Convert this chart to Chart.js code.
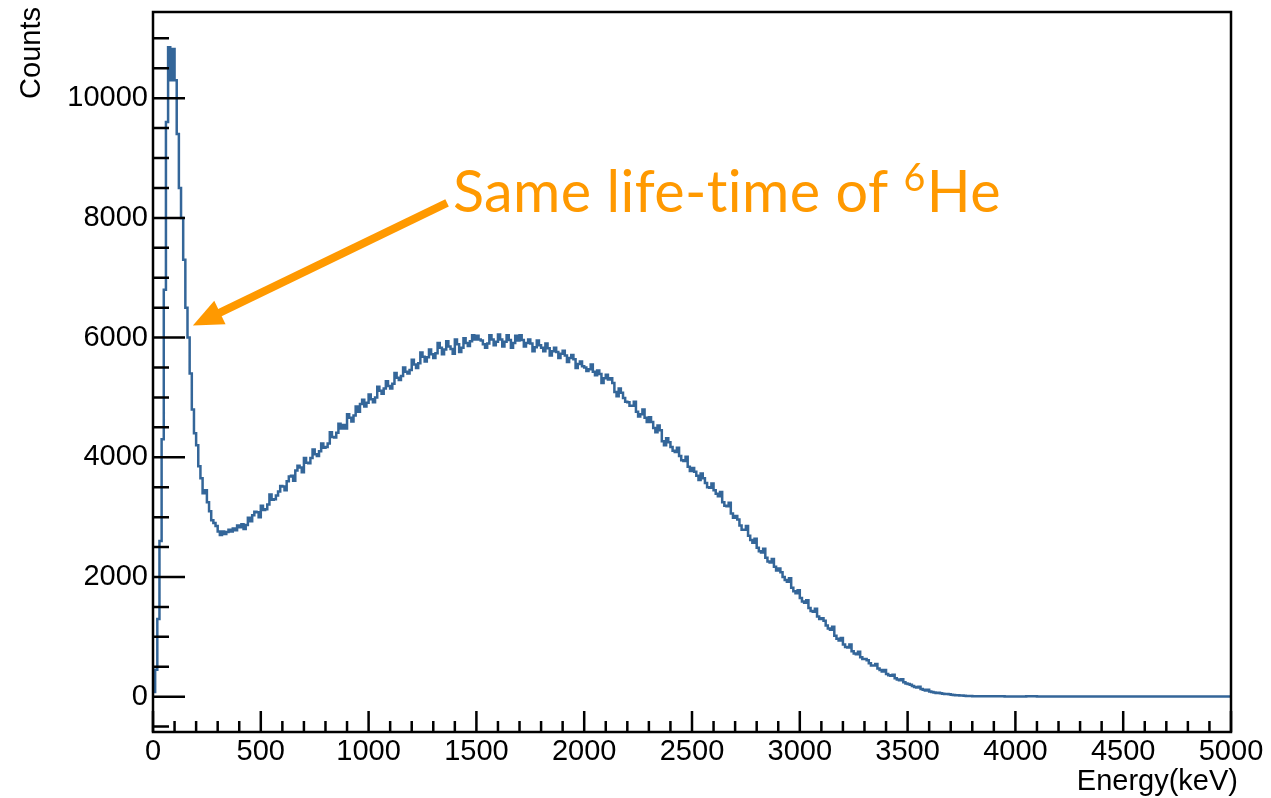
<!DOCTYPE html>
<html>
<head>
<meta charset="utf-8">
<title>Energy spectrum</title>
<script src="https://cdn.jsdelivr.net/npm/chart.js@4"></script>
<style>
    html, body { margin: 0; padding: 0; background: #ffffff; }
    #wrap { width: 1271px; height: 798px; }
</style>
</head>
<body>
<div id="wrap"><canvas id="spectrum"></canvas></div>
<script>
// Histogram counts, three binning regions
const fineStart = 0;      // keV, 10 keV bins
const fineWidth = 10;
const fineCounts = [
    80, 450, 1300, 2600, 4300, 6800, 9600, 10850, 10300, 10820,
    10300, 9400, 8500, 8000, 7300, 6500, 6000, 5400, 4800, 4400,
    4200, 3850, 3650, 3400, 3450, 3250, 3100, 2950, 2900, 2850,
    2760, 2700, 2760, 2720, 2750, 2790, 2760, 2810, 2780, 2860
];

const midStart = 400;     // keV, 10 keV bins
const midWidth = 10;
const midCounts = [
    2830, 2880, 2800, 2870, 2990, 2930, 3030, 3090, 3080, 3000, 3190, 3120, 3130, 3210, 3380, 3290, 3300, 3360, 3430, 3520,
    3510, 3450, 3600, 3680, 3690, 3610, 3780, 3860, 3830, 3750, 3990, 3910, 3900, 3990, 4130, 4050, 4020, 4100, 4230, 4160,
    4170, 4230, 4420, 4340, 4330, 4410, 4560, 4480, 4540, 4480, 4720, 4660, 4600, 4700, 4850, 4760, 4890, 4960, 4850, 4910,
    5050, 4970, 4920, 5000, 5180, 5110, 5060, 5150, 5270, 5190, 5150, 5230, 5410, 5330, 5290, 5360, 5500, 5430, 5400, 5460,
    5630, 5550, 5490, 5570, 5750, 5680, 5600, 5670, 5800, 5720, 5660, 5740, 5910, 5830, 5720, 5800, 5940, 5850, 5810, 5730,
    5970, 5890, 5760, 5830, 5990, 5910, 5860, 5940, 6040, 5970, 6030, 5970, 5950, 5890, 5830, 5900, 6040, 5970, 5870, 5930,
    6050, 5970, 5850, 5930, 6040, 5960, 5830, 5910, 6030, 5950, 6040, 5960, 5850, 5910, 5970, 5900, 5770, 5840, 5950, 5870,
    5830, 5770, 5900, 5820, 5700, 5770, 5830, 5760, 5660, 5730, 5780, 5700, 5590, 5660, 5710, 5640, 5490, 5560, 5600, 5520,
    5500, 5440, 5470, 5550, 5430, 5370, 5450, 5390, 5240, 5320, 5380, 5300, 5320, 5240, 5090, 5020, 5150, 5080, 4990, 4930,
    4920, 4860, 4860, 4930, 4760, 4680, 4720, 4800, 4660, 4590, 4670, 4590, 4490, 4420, 4530, 4450, 4270, 4200, 4320, 4250,
    4170, 4110, 4090, 4160, 4020, 3950, 3940, 4010, 3840, 3770, 3820, 3760, 3690, 3620, 3730, 3650, 3570, 3500, 3490, 3560,
    3450, 3390, 3350, 3420, 3250, 3190, 3180, 3240, 3060, 2990, 3020, 2960, 2860, 2790, 2790, 2850, 2690, 2620, 2570, 2640,
    2490, 2430, 2410, 2470, 2320, 2260, 2240, 2300, 2170, 2110, 2140, 2080, 2000, 1950, 1920, 1980, 1820, 1760, 1730, 1780,
    1650, 1590, 1570, 1610, 1480, 1430, 1420, 1470, 1340, 1300, 1310, 1270, 1190, 1140, 1120, 1170, 1020, 970, 940, 980,
    870, 830, 820, 870, 760, 720, 710, 750, 660, 630, 630, 610, 560, 520, 520, 545, 470, 445, 420, 448,
    380, 360, 350, 368, 310, 288, 276, 290, 240, 222, 214, 200, 178, 162, 155, 166, 130, 118, 104, 114,
    86, 78, 70, 62, 64, 58, 50, 44, 44, 40, 34, 28, 26, 22, 20, 18, 16, 12, 12, 10
];

const tailStart = 3800;   // keV, 50 keV bins
const tailWidth = 50;
const tailCounts = [
    8, 6, 7, 5, 4, 6, 3, 5, 4, 3, 5, 4,
    3, 4, 2, 3, 4, 3, 2, 3, 4, 2, 3, 2
];

// Axis ranges and tick labels
const xMin = 0, xMax = 5000;
const yMin = -590, yMax = 11440;
const xTicks = [0, 500, 1000, 1500, 2000, 2500, 3000, 3500, 4000, 4500, 5000];
const yTicks = [0, 2000, 4000, 6000, 8000, 10000];
const xMinorStep = 100;
const yMinorStep = 500;

// Annotation anchors (data units)
const arrowTip = { x: 185, y: 6200 };
const arrowTail = { x: 1364, y: 8250 };
const noteAnchor = { x: 1391, y: 8100 };
const noteText = "Same life-time of ";
const noteSup = "6";
const noteTail = "He";

const lineColor = "#346699";
const noteColor = "#ff9900";
const axisFont = "Liberation Sans";

// Turn bin lists into left-edge points for a stepped line
function binsToPoints(start, width, counts) {
    return counts.map((c, i) => ({ x: start + i * width, y: c }));
}

const histPoints = [
    ...binsToPoints(fineStart, fineWidth, fineCounts),
    ...binsToPoints(midStart, midWidth, midCounts),
    ...binsToPoints(tailStart, tailWidth, tailCounts)
];
histPoints.push({ x: xMax, y: tailCounts[tailCounts.length - 1] });

// ROOT-like frame, inner ticks, titles and annotation
const frameDecor = {
    id: "frameDecor",
    afterDatasetsDraw(chart) {
        const { ctx, chartArea: a, scales: { x, y } } = chart;
        ctx.save();

        // frame
        ctx.strokeStyle = "#000";
        ctx.lineWidth = 2.5;
        ctx.strokeRect(a.left, a.top, a.right - a.left, a.bottom - a.top);

        // ticks
        ctx.beginPath();
        for (let v = xMin; v <= xMax; v += xMinorStep) {
            const px = x.getPixelForValue(v);
            const len = v % 500 === 0 ? 21 : 11;
            ctx.moveTo(px, a.bottom);
            ctx.lineTo(px, a.bottom - len);
        }
        for (let v = -500; v <= 11000; v += yMinorStep) {
            const py = y.getPixelForValue(v);
            const len = v % 2000 === 0 ? 32 : 16;
            ctx.moveTo(a.left, py);
            ctx.lineTo(a.left + len, py);
        }
        ctx.stroke();

        // axis titles
        ctx.fillStyle = "#000";
        ctx.font = `29px "${axisFont}"`;
        ctx.textAlign = "right";
        ctx.textBaseline = "alphabetic";
        ctx.fillText("Energy(keV)", 1238, 790);

        ctx.save();
        ctx.translate(40, 7);
        ctx.rotate(-Math.PI / 2);
        ctx.fillText("Counts", 0, 0);
        ctx.restore();

        // arrow
        const tx = x.getPixelForValue(arrowTip.x);
        const ty = y.getPixelForValue(arrowTip.y);
        const sx = x.getPixelForValue(arrowTail.x);
        const sy = y.getPixelForValue(arrowTail.y);
        const ang = Math.atan2(ty - sy, tx - sx);
        const headLen = 30;
        const headHalf = 13;
        const bx = tx - headLen * Math.cos(ang);
        const by = ty - headLen * Math.sin(ang);

        ctx.strokeStyle = noteColor;
        ctx.fillStyle = noteColor;
        ctx.lineWidth = 8;
        ctx.beginPath();
        ctx.moveTo(sx, sy);
        ctx.lineTo(bx + 4 * Math.cos(ang), by + 4 * Math.sin(ang));
        ctx.stroke();

        ctx.beginPath();
        ctx.moveTo(tx, ty);
        ctx.lineTo(bx + headHalf * Math.sin(ang), by - headHalf * Math.cos(ang));
        ctx.lineTo(bx - headHalf * Math.sin(ang), by + headHalf * Math.cos(ang));
        ctx.closePath();
        ctx.fill();

        // annotation text with superscript (letter spacing keeps "ti" unligated)
        const nx = x.getPixelForValue(noteAnchor.x);
        const ny = y.getPixelForValue(noteAnchor.y);
        ctx.textAlign = "left";
        ctx.letterSpacing = "0.4px";
        ctx.font = "58px Lato";
        const w1 = ctx.measureText(noteText).width;
        const w3 = ctx.measureText(noteTail).width;
        ctx.font = "38px Lato";
        const w2 = ctx.measureText(noteSup).width;
        const squeeze = 547 / (w1 + w2 + w3);

        ctx.save();
        ctx.translate(nx, ny);
        ctx.scale(squeeze, 1);
        ctx.font = "58px Lato";
        ctx.fillText(noteText, 0, 0);
        ctx.font = "38px Lato";
        ctx.fillText(noteSup, w1, -21);
        ctx.font = "58px Lato";
        ctx.fillText(noteTail, w1 + w2 + 1, 0);
        ctx.restore();

        ctx.restore();
    }
};

new Chart(document.getElementById("spectrum"), {
    type: "line",
    data: {
        datasets: [{
            label: "Counts",
            data: histPoints,
            stepped: "before",
            borderColor: lineColor,
            borderWidth: 2.5,
            pointRadius: 0,
            fill: false
        }]
    },
    options: {
        responsive: true,
        maintainAspectRatio: false,
        animation: false,
        layout: { padding: { top: 12, right: 40, left: 0, bottom: 0 } },
        plugins: {
            legend: { display: false },
            tooltip: { enabled: false }
        },
        scales: {
            x: {
                type: "linear",
                min: xMin,
                max: xMax,
                afterBuildTicks: s => { s.ticks = xTicks.map(v => ({ value: v })); },
                afterFit: s => {
                    s.height = 66;
                    s.paddingLeft = 0;
                    s.paddingRight = 0;
                },
                grid: { display: false, drawTicks: false },
                border: { display: false },
                ticks: {
                    color: "#000",
                    font: { family: axisFont, size: 29 },
                    padding: 3,
                    maxRotation: 0,
                    autoSkip: false,
                    callback: v => String(v)
                }
            },
            y: {
                type: "linear",
                min: yMin,
                max: yMax,
                afterBuildTicks: s => { s.ticks = yTicks.map(v => ({ value: v })); },
                afterFit: s => {
                    s.width = 153;
                    s.paddingTop = 0;
                    s.paddingBottom = 0;
                },
                grid: { display: false, drawTicks: false },
                border: { display: false },
                ticks: {
                    color: "#000",
                    font: { family: axisFont, size: 29 },
                    padding: 5,
                    callback: v => String(v)
                }
            }
        }
    },
    plugins: [frameDecor]
});
</script>
</body>
</html>
